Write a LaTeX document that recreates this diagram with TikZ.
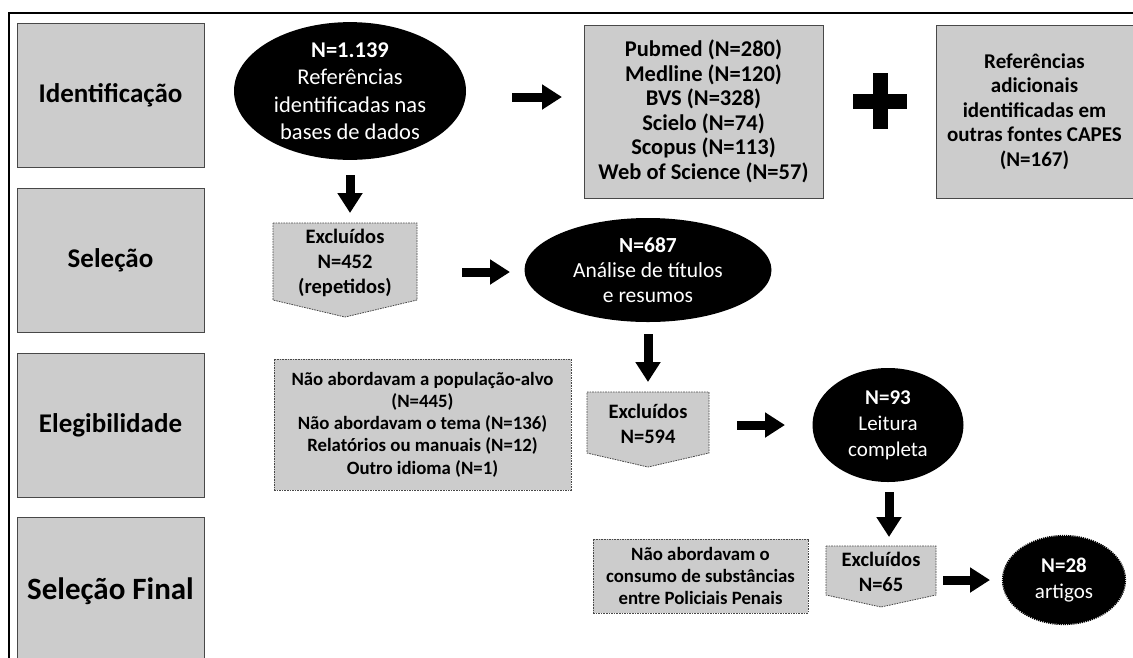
\documentclass[tikz,border=0pt]{standalone}
\usepackage{fontspec}
\setmainfont{Carlito}
\usetikzlibrary{arrows.meta,shapes.geometric}
\definecolor{boxgray}{HTML}{CCCCCC}
\definecolor{edgegray}{HTML}{484848}
\begin{document}
\begin{tikzpicture}[x=1pt,y=-1pt,
  stage/.style={draw=edgegray, line width=0.9pt, fill=boxgray, minimum width=187pt, minimum height=144pt, inner sep=0pt, font=\fontsize{27}{32}\selectfont\bfseries},
  blk/.style={ellipse, fill=black, text=white, inner sep=0pt, align=center, font=\fontsize{21}{26}\selectfont},
  sbox/.style={draw=edgegray, line width=0.9pt, fill=boxgray, inner sep=0pt, align=center, font=\fontsize{21}{24.5}\selectfont\bfseries},
  dbox/.style={draw=edgegray, line width=0.8pt, dash pattern=on 1.6pt off 1pt, fill=boxgray, inner sep=0pt, align=center, font=\fontsize{18.8}{22.3}\selectfont\bfseries},
  pent/.style={draw=edgegray, line width=0.8pt, dash pattern=on 1.6pt off 1pt, fill=boxgray},
  ptext/.style={inner sep=0pt, align=center, font=\fontsize{20.5}{25}\selectfont\bfseries},
  barrow/.style={line width=9pt, -{Triangle[width=24pt,length=20pt]}}
]
\useasboundingbox (0,0) rectangle (1133,657);
% frame
\draw[line width=2.4pt] (9,670) -- (9,13) -- (1140,13);
% stage labels
\node[stage] (ident) at (110.5,95) {Identificação};
\node[stage] (sel) at (110.5,260) {Seleção};
\node[stage] (eleg) at (110.5,425) {Elegibilidade};
\node[stage, minimum height=148pt, font=\fontsize{31}{36}\selectfont\bfseries] (final) at (110.5,591) {Seleção Final};
% identification row
\node[blk, minimum width=232pt, minimum height=128pt, font=\fontsize{22.5}{27.5}\selectfont] (e1) at (350,91) {\textbf{N=1.139}\\Referências\\identificadas nas\\bases de dados};
\node[sbox, minimum width=239pt, minimum height=173pt, font=\fontsize{22.5}{24.5}\selectfont\bfseries] (bases) at (703.5,111.5) {Pubmed (N=280)\\Medline (N=120)\\BVS (N=328)\\Scielo (N=74)\\Scopus (N=113)\\Web of Science (N=57)};
\draw[line width=15pt, rounded corners=2pt] (853,101) -- (907,101);
\draw[line width=15pt] (880,73) -- (880,129);
\node[sbox, minimum width=197pt, minimum height=173pt] (adic) at (1034.5,111.5) {Referências\\adicionais\\identificadas em\\outras fontes CAPES\\(N=167)};
% selection row
\path[pent] (273,223) -- (417,223) -- (417,300) -- (345,317) -- (273,300) -- cycle;
\node[ptext] (exc1) at (345,263) {Excluídos\\N=452\\(repetidos)};
\node[blk, minimum width=247pt, minimum height=104pt, font=\fontsize{21.5}{25}\selectfont] (e2) at (648,270) {\textbf{N=687}\\Análise de títulos\\e resumos};
% eligibility row
\node[dbox, minimum width=297pt, minimum height=131pt] (motivos) at (422.5,424.5) {Não abordavam a população-alvo\\(N=445)\\Não abordavam o tema (N=136)\\Relatórios ou manuais (N=12)\\Outro idioma (N=1)};
\path[pent] (587,392) -- (709,392) -- (709,453) -- (648,467) -- (587,453) -- cycle;
\node[ptext] (exc2) at (648,423.5) {Excluídos\\N=594};
\node[blk, minimum width=151pt, minimum height=114pt] (e3) at (888,425) {\textbf{N=93}\\Leitura\\completa};
% final row
\node[dbox, minimum width=215pt, minimum height=74pt] (motivo2) at (700.5,576) {Não abordavam o\\consumo de substâncias\\entre Policiais Penais};
\path[pent] (826,546) -- (936,546) -- (936,595) -- (881,607) -- (826,595) -- cycle;
\node[ptext] (exc3) at (881,572) {Excluídos\\N=65};
\node[blk, draw=black, line width=2.2pt, dash pattern=on 1.2pt off 0.9pt, minimum width=122pt, minimum height=88pt] (e4) at (1064,580) {\textbf{N=28}\\artigos};
% arrows
\coordinate (a1s) at (512,97); \coordinate (a1e) at (562,97);
\coordinate (a2s) at (350,175); \coordinate (a2e) at (350,213);
\coordinate (a3s) at (462,272); \coordinate (a3e) at (510,272);
\coordinate (a4s) at (648,334); \coordinate (a4e) at (648,382);
\coordinate (a5s) at (737,425); \coordinate (a5e) at (785,425);
\coordinate (a6s) at (889,492); \coordinate (a6e) at (889,537);
\coordinate (a7s) at (943,580); \coordinate (a7e) at (990,580);
\draw[barrow] (a1s) -- (a1e);
\draw[barrow] (a2s) -- (a2e);
\draw[barrow] (a3s) -- (a3e);
\draw[barrow] (a4s) -- (a4e);
\draw[barrow] (a5s) -- (a5e);
\draw[barrow] (a6s) -- (a6e);
\draw[barrow] (a7s) -- (a7e);
\end{tikzpicture}
\end{document}
